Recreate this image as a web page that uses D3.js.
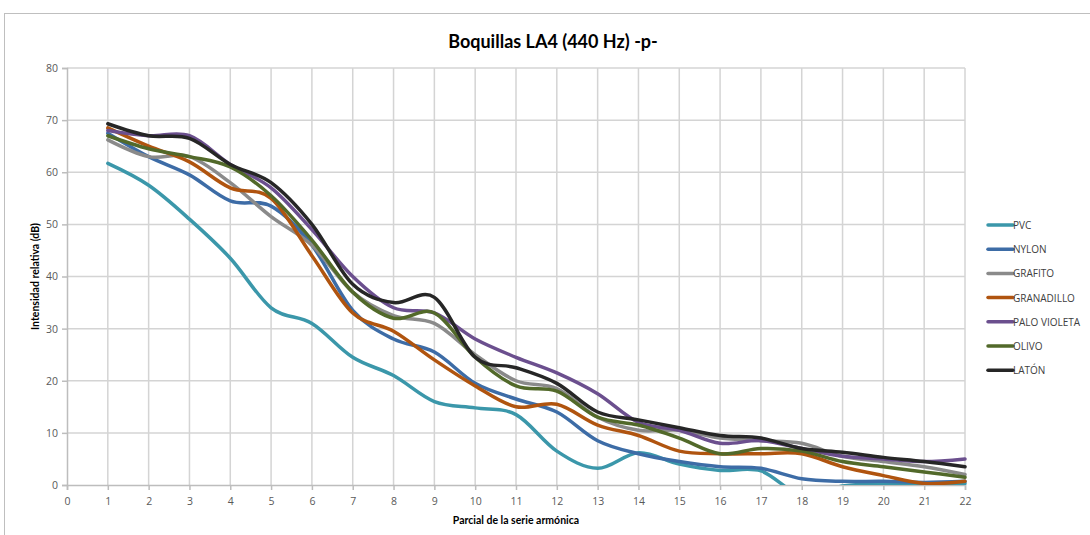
<!DOCTYPE html>
<html>
<head>
<meta charset="utf-8">
<script src="https://cdn.jsdelivr.net/npm/d3@7"></script>
<style>
  html, body { margin: 0; padding: 0; background: #fff; }
  svg { display: block; }
</style>
</head>
<body>
<svg id="chart" width="1090" height="535"></svg>
<script>
// Harmonic partial numbers
const partials = d3.range(1, 23);

// Relative intensity (dB) per mouthpiece material
const pvc         = [61.7, 57.5, 51.0, 43.5, 34.0, 31.0, 24.5, 21.0, 16.0, 14.8, 13.5, 6.5, 3.2, 6.2, 4.0, 2.8, 2.7, -2.0, -0.2, 0.3, 0.2, 0.3];
const nylon       = [67.5, 63.0, 59.5, 54.5, 53.5, 46.0, 33.5, 28.0, 25.5, 19.5, 16.5, 14.0, 8.5, 6.0, 4.5, 3.5, 3.2, 1.2, 0.7, 0.7, 0.5, 0.7];
const grafito     = [66.2, 63.0, 63.0, 58.0, 51.5, 46.0, 37.0, 32.5, 31.0, 25.0, 20.0, 18.5, 13.0, 10.5, 10.5, 9.0, 8.5, 8.0, 5.5, 4.5, 3.5, 2.0];
const granadillo  = [68.5, 65.0, 62.0, 57.0, 55.0, 44.0, 33.0, 29.5, 24.0, 19.0, 15.0, 15.5, 11.5, 9.5, 6.5, 6.0, 6.0, 6.0, 3.5, 1.8, 0.3, 0.7];
const paloVioleta = [68.0, 67.0, 67.0, 61.5, 57.0, 49.0, 40.0, 34.0, 33.0, 28.0, 24.5, 21.5, 17.5, 12.0, 10.5, 8.0, 8.5, 7.0, 5.5, 5.0, 4.5, 5.0];
const olivo       = [67.0, 64.5, 63.0, 61.0, 55.5, 47.0, 37.0, 32.0, 33.0, 24.5, 19.0, 18.0, 13.0, 11.5, 9.0, 6.0, 7.0, 6.5, 4.5, 3.5, 2.5, 1.5];
const laton       = [69.3, 67.0, 66.5, 61.5, 58.0, 50.0, 38.5, 35.0, 36.0, 24.5, 22.5, 19.5, 14.0, 12.5, 11.0, 9.5, 9.0, 7.0, 6.3, 5.3, 4.5, 3.5];

const seriesNames = ["PVC", "NYLON", "GRAFITO", "GRANADILLO", "PALO VIOLETA", "OLIVO", "LATÓN"];
const seriesValues = [pvc, nylon, grafito, granadillo, paloVioleta, olivo, laton];
const seriesColors = ["#3b97aa", "#3d6ca6", "#8a8a8a", "#b0540f", "#6b4f8e", "#52692a", "#262626"];

const xTicks = d3.range(0, 23);
const yTicks = d3.range(0, 81, 10);

const title = "Boquillas LA4 (440 Hz) -p-";
const xTitle = "Parcial de la serie armónica";
const yTitle = "Intensidad relativa (dB)";

const svg = d3.select("#chart");
const plot = { left: 67, right: 965, top: 68, bottom: 485 };

const x = d3.scaleLinear().domain([0, 22]).range([plot.left, plot.right]);
const y = d3.scaleLinear().domain([0, 80]).range([plot.bottom, plot.top]);

// Outer chart frame
svg.append("rect")
  .attr("x", 4.5).attr("y", 13.5)
  .attr("width", 1100).attr("height", 600)
  .attr("fill", "#fff").attr("stroke", "#bfbfbf").attr("stroke-width", 1);

// Title
svg.append("text")
  .attr("x", 553).attr("y", 48)
  .attr("text-anchor", "middle")
  .attr("font-family", "Lato, 'Open Sans', sans-serif")
  .attr("font-weight", "bold")
  .attr("font-size", 18)
  .attr("fill", "#000")
  .text(title);

// Gridlines
const grid = svg.append("g").attr("stroke", "#d4d4d4").attr("stroke-width", 1.5);
grid.selectAll("line.v").data(xTicks.slice(1)).join("line")
  .attr("x1", d => x(d)).attr("x2", d => x(d))
  .attr("y1", plot.top).attr("y2", plot.bottom);
grid.selectAll("line.h").data(yTicks.slice(1)).join("line")
  .attr("x1", plot.left).attr("x2", plot.right)
  .attr("y1", d => y(d)).attr("y2", d => y(d));

// Axes
const yAxis = d3.axisLeft(y).tickValues(yTicks).tickSize(5).tickPadding(4);
const xAxis = d3.axisBottom(x).tickValues(xTicks).tickSize(5).tickPadding(8);

const gy = svg.append("g").attr("transform", `translate(${plot.left},0)`).call(yAxis);
const gx = svg.append("g").attr("transform", `translate(0,${plot.bottom})`).call(xAxis);
[gx, gy].forEach(g => {
  g.select(".domain").attr("stroke", "#bdbdbd").attr("stroke-width", 1.5);
  g.selectAll(".tick line").attr("stroke", "#bdbdbd").attr("stroke-width", 1.5);
  g.selectAll(".tick text")
    .attr("font-family", "'Open Sans', sans-serif")
    .attr("font-size", 10.5)
    .attr("fill", "#595959");
});

// Axis titles
svg.append("text")
  .attr("transform", `translate(39,${(plot.top + plot.bottom) / 2}) rotate(-90)`)
  .attr("text-anchor", "middle")
  .attr("font-family", "Lato, 'Open Sans', sans-serif")
  .attr("font-weight", "bold")
  .attr("font-size", 10.5)
  .text(yTitle);
svg.append("text")
  .attr("x", (plot.left + plot.right) / 2).attr("y", 524)
  .attr("text-anchor", "middle")
  .attr("font-family", "Lato, 'Open Sans', sans-serif")
  .attr("font-weight", "bold")
  .attr("font-size", 10.5)
  .text(xTitle);

// Clip series to the plot area
svg.append("clipPath").attr("id", "plotClip")
  .append("rect")
  .attr("x", plot.left).attr("y", plot.top)
  .attr("width", plot.right - plot.left + 4)
  .attr("height", plot.bottom - plot.top);

const line = d3.line()
  .x((d, i) => x(partials[i]))
  .y(d => y(d))
  .curve(d3.curveCatmullRom.alpha(0));

svg.append("g").attr("clip-path", "url(#plotClip)")
  .selectAll("path").data(seriesValues).join("path")
  .attr("d", d => line(d))
  .attr("fill", "none")
  .attr("stroke", (d, i) => seriesColors[i])
  .attr("stroke-width", 3.5)
  .attr("stroke-linejoin", "round")
  .attr("stroke-linecap", "round");

// Legend
const legend = svg.append("g").attr("transform", "translate(988,225)");
const item = legend.selectAll("g").data(seriesNames).join("g")
  .attr("transform", (d, i) => `translate(0,${i * 24.2})`);
item.append("line")
  .attr("x1", 0).attr("x2", 25).attr("y1", 0).attr("y2", 0)
  .attr("stroke", (d, i) => seriesColors[i])
  .attr("stroke-width", 3.5)
  .attr("stroke-linecap", "round");
item.append("text")
  .attr("x", 25).attr("y", 4)
  .attr("font-family", "'Open Sans', sans-serif")
  .attr("font-size", 10)
  .attr("fill", "#404040")
  .text(d => d);
</script>
</body>
</html>
